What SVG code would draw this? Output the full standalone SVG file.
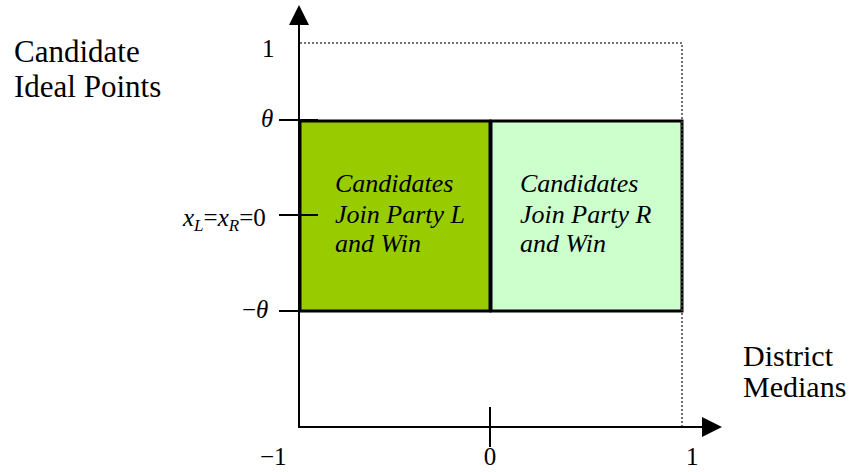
<svg xmlns="http://www.w3.org/2000/svg" width="858" height="472" viewBox="0 0 858 472">
<defs>
<marker id="unused" markerWidth="1" markerHeight="1"/>
</defs>
<rect width="858" height="472" fill="#fff"/>
<g id="regionL">
<rect x="300" y="121" width="190" height="190" fill="#99CC00" stroke="#000" stroke-width="3"/>
<text font-family="Liberation Serif" font-size="26" font-style="italic" x="335" y="192">Candidates</text>
<text font-family="Liberation Serif" font-size="26" font-style="italic" x="335" y="223">Join Party L</text>
<text font-family="Liberation Serif" font-size="26" font-style="italic" x="335" y="252">and Win</text>
</g>
<g id="regionR">
<rect x="491" y="121" width="191" height="190" fill="#CCFFCC" stroke="#000" stroke-width="3"/>
<text font-family="Liberation Serif" font-size="26" font-style="italic" x="520" y="192">Candidates</text>
<text font-family="Liberation Serif" font-size="26" font-style="italic" x="520" y="223">Join Party R</text>
<text font-family="Liberation Serif" font-size="26" font-style="italic" x="520" y="252">and Win</text>
</g>
<g id="connectors">
<path d="M300 43H682V427" stroke="#444" stroke-width="1.5" stroke-dasharray="2 2" fill="none"/>
<g stroke="#000" stroke-width="2" fill="none">
<path d="M299 25V427H702"/>
<path d="M279 120H318M279 215H318M279 311H318M490 407V447"/>
</g>
<polygon points="299,5 289,25 309,25" fill="#000"/>
<polygon points="722,427 702,417 702,437" fill="#000"/>
</g>
<g id="labels">
<text font-family="Liberation Serif" font-size="31" x="14" y="62">Candidate</text>
<text font-family="Liberation Serif" font-size="31" x="14" y="97">Ideal Points</text>
<text font-family="Liberation Serif" font-size="30" x="743" y="366">District</text>
<text font-family="Liberation Serif" font-size="30" x="743" y="397">Medians</text>
<text font-family="Liberation Serif" font-size="25" x="262" y="57">1</text>
<text font-family="Liberation Serif" font-size="25" font-style="italic" x="261" y="127">&#952;</text>
<text font-family="Liberation Serif" font-size="25" x="242" y="318">&#8722;<tspan font-style="italic">&#952;</tspan></text>
<text font-family="Liberation Serif" font-size="25" x="183" y="226"><tspan font-style="italic">x</tspan><tspan font-size="17" font-style="italic" dy="5">L</tspan><tspan dy="-5">=</tspan><tspan font-style="italic">x</tspan><tspan font-size="17" font-style="italic" dy="5">R</tspan><tspan dy="-5">=0</tspan></text>
<text font-family="Liberation Serif" font-size="25" x="260" y="465">&#8722;1</text>
<text font-family="Liberation Serif" font-size="25" x="490" y="465" text-anchor="middle">0</text>
<text font-family="Liberation Serif" font-size="25" x="686" y="465">1</text>
</g>
</svg>
